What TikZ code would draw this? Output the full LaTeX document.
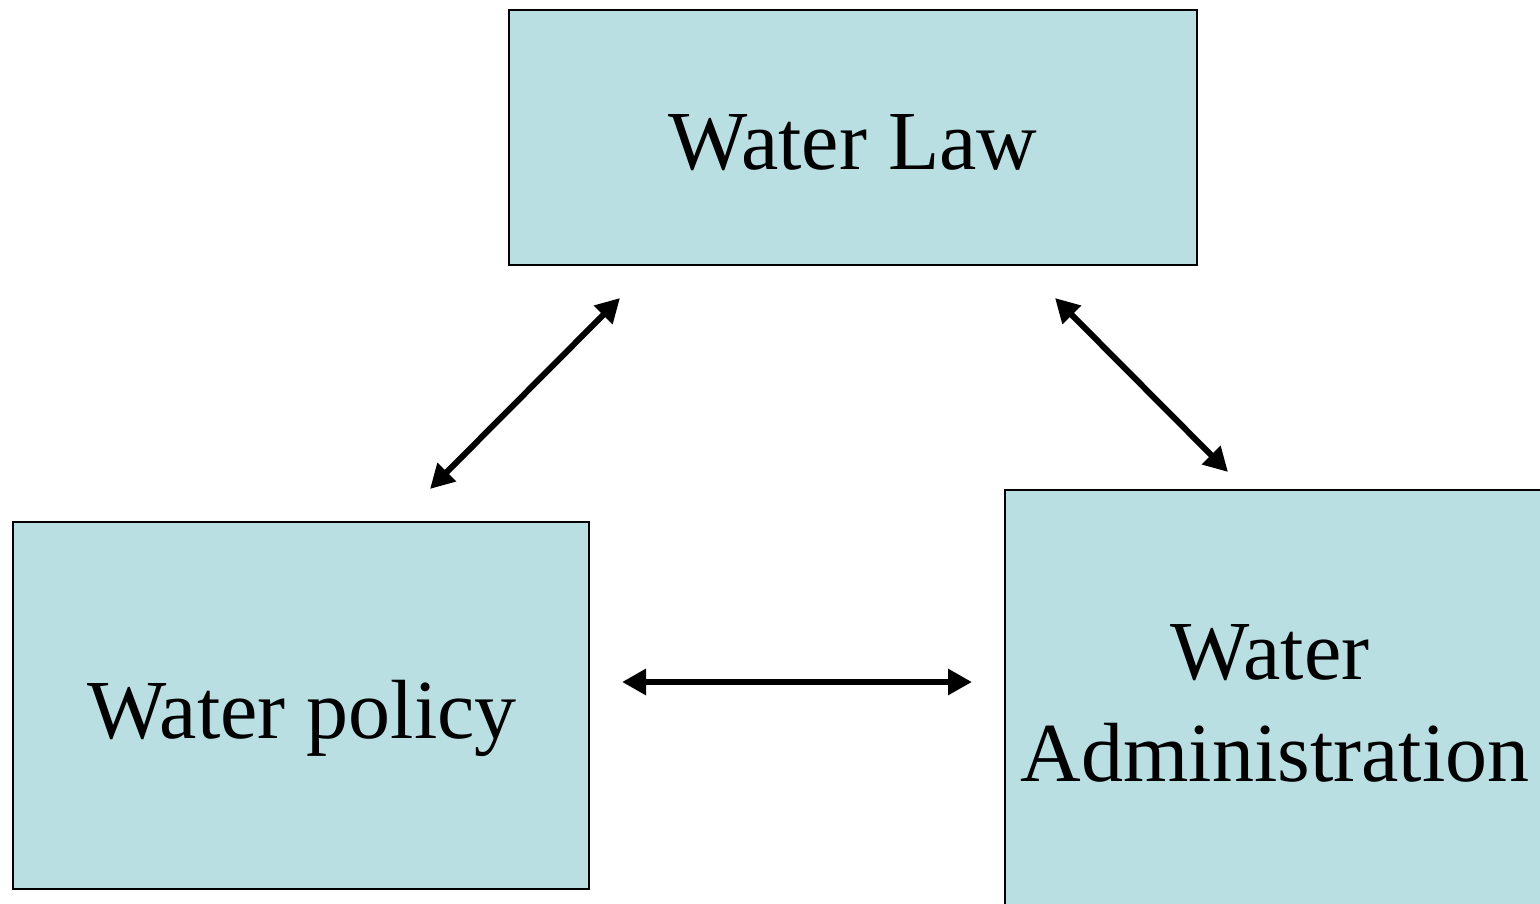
\documentclass[tikz,border=0pt]{standalone}
\usepackage{fontspec}
\setmainfont{Liberation Serif}
\usetikzlibrary{arrows.meta}
\definecolor{boxfill}{HTML}{BADFE3}
\tikzset{
  box/.style={draw=black, line width=1.5pt, fill=boxfill, inner sep=0pt},
  lbl/.style={font=\fontsize{84}{102}\selectfont, inner sep=0pt, anchor=base},
  arr/.style={line width=6pt, {Triangle[length=24pt,width=25pt]}-{Triangle[length=24pt,width=25pt]}}
}
\begin{document}
\begin{tikzpicture}[x=1pt,y=-1pt]
\useasboundingbox (0,0) rectangle (1540,904);
\fill[white] (0,0) rectangle (1540,904);
% boxes
\node[box, minimum width=688pt, minimum height=255pt] (law) at (853,137.5) {};
\node[box, minimum width=576pt, minimum height=367pt] (pol) at (301,705.5) {};
\node[box, minimum width=544pt, minimum height=440pt] (adm) at (1277,710) {};
% labels
\node[lbl] (lawt) at (853,170) {Water Law};
\node[lbl] (polt) at (302,738) {Water policy};
\node[lbl] (admt1) at (1270,679) {Water};
\node[lbl] (admt2) at (1275,781) {Administration};
% arrow end points
\coordinate (pl) at (430,489);
\coordinate (lp) at (620,298);
\coordinate (la) at (1055,298);
\coordinate (al) at (1228,472);
\coordinate (pa) at (622,682);
\coordinate (ap) at (972,682);
\draw[arr] (pl) -- (lp);
\draw[arr] (la) -- (al);
\draw[arr] (pa) -- (ap);
\end{tikzpicture}
\end{document}
